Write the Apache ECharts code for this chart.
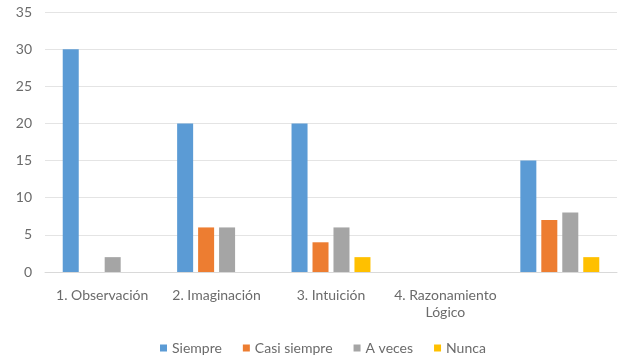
<!DOCTYPE html>
<html>
<head>
<meta charset="utf-8">
<script src="https://cdn.jsdelivr.net/npm/echarts@6/dist/echarts.min.js"></script>
<style>
  html, body { margin: 0; padding: 0; background: #fff; }
  #chart { width: 626px; height: 358px; }
</style>
</head>
<body>
<div id="chart"></div>
<script>
// Categories along the x axis (the last one has no label)
const categories = ['1. Observación', '2. Imaginación', '3. Intuición', '4. Razonamiento\nLógico', ''];

// Series values per category
const siempre     = [30, 20, 20, 0, 15];
const casiSiempre = [0, 6, 4, 0, 7];
const aVeces      = [2, 6, 6, 0, 8];
const nunca       = [0, 0, 2, 0, 2];

const seriesNames = ['Siempre', 'Casi siempre', 'A veces', 'Nunca'];
const seriesData = [siempre, casiSiempre, aVeces, nunca];
const colors = ['#5B9BD5', '#ED7D31', '#A5A5A5', '#FFC000'];

const fontFamily = 'Lato, "Open Sans", sans-serif';
const textColor = '#6B6B6B';

const chart = echarts.init(document.getElementById('chart'), null, { renderer: 'canvas' });
chart.setOption({
  animation: false,
  color: colors,
  textStyle: { fontFamily: fontFamily },
  grid: { left: 45, right: 9, top: 12, bottom: 86 },
  legend: {
    bottom: 3,
    left: 160,
    padding: 0,
    itemWidth: 7,
    itemHeight: 7,
    itemGap: 21,
    icon: 'rect',
    textStyle: { color: textColor, fontSize: 14, fontFamily: fontFamily },
    data: seriesNames
  },
  xAxis: {
    type: 'category',
    data: categories,
    axisLine: { show: true, lineStyle: { color: '#D9D9D9' } },
    axisTick: { show: false },
    axisLabel: { color: textColor, fontSize: 14, margin: 15, lineHeight: 17, interval: 0 }
  },
  yAxis: {
    type: 'value',
    min: 0,
    max: 35,
    interval: 5,
    axisLine: { show: false },
    axisTick: { show: false },
    axisLabel: { color: textColor, fontSize: 14, margin: 13 },
    splitLine: { lineStyle: { color: '#E4E4E4' } }
  },
  series: seriesNames.map((name, i) => ({
    name: name,
    type: 'bar',
    data: seriesData[i],
    barGap: '31%',
    barCategoryGap: '31%'
  }))
});
</script>
</body>
</html>
